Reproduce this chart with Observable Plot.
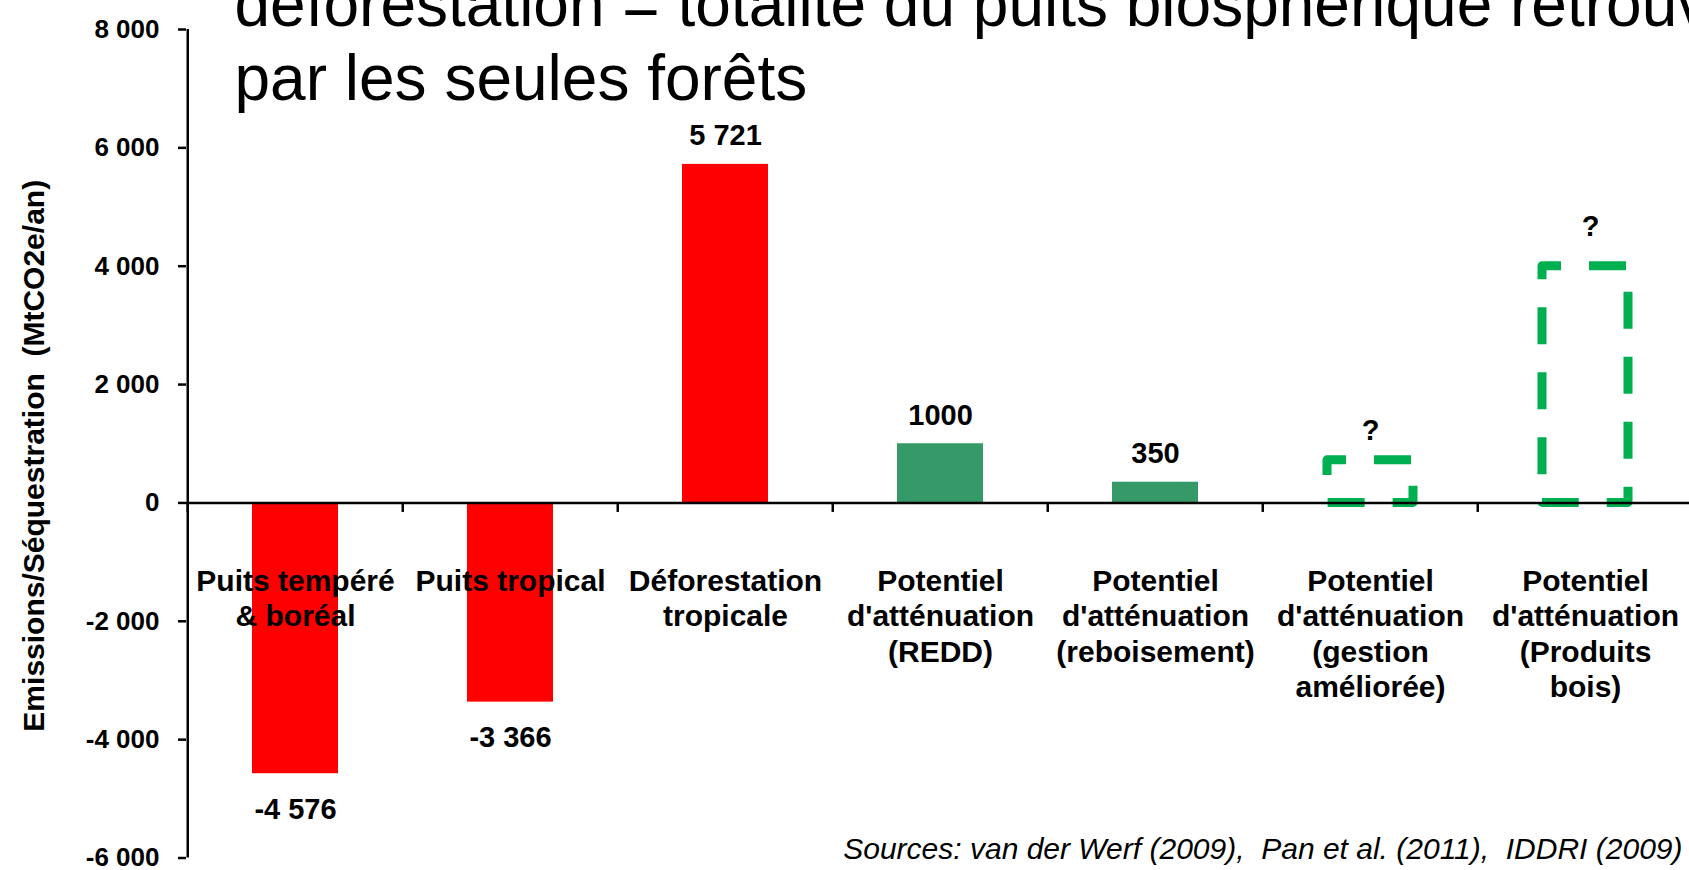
<!DOCTYPE html>
<html>
<head>
<meta charset="utf-8">
<script src="https://cdn.jsdelivr.net/npm/d3@7"></script>
<script src="https://cdn.jsdelivr.net/npm/@observablehq/plot@0.6"></script>
<style>
  html, body { margin: 0; padding: 0; background: #fff; overflow: hidden; }
  #chart { width: 1689px; height: 870px; overflow: hidden; }
</style>
</head>
<body>
<div id="chart"></div>
<script>
// ---- data ----
const categories = [
  "Puits tempéré\n& boréal",
  "Puits tropical",
  "Déforestation\ntropicale",
  "Potentiel\nd'atténuation\n(REDD)",
  "Potentiel\nd'atténuation\n(reboisement)",
  "Potentiel\nd'atténuation\n(gestion\naméliorée)",
  "Potentiel\nd'atténuation\n(Produits\nbois)"
];
const values = [-4576, -3366, 5721, 1000, 350, 720, 4000];
const valueLabels = ["-4 576", "-3 366", "5 721", "1000", "350", "?", "?"];
const kinds = ["flux", "flux", "flux", "potentiel", "potentiel", "incertain", "incertain"];
const yTicks = [-6000, -4000, -2000, 0, 2000, 4000, 6000, 8000];
const yDomain = [-6000, 8000];
const titleText = "déforestation = totalité du puits biosphérique retrouvé\npar les seules forêts";
const yLabel = "Emissions/Séquestration\u00a0\u00a0(MtCO2e/an)";
const sourcesText = "Sources: van der Werf (2009),\u00a0 Pan et al. (2011),\u00a0 IDDRI (2009)";

// ---- build table ----
const data = categories.map((c, i) => ({cat: c, value: values[i], label: valueLabels[i], kind: kinds[i]}));
const flux = data.filter(d => d.kind === "flux");
const pot = data.filter(d => d.kind === "potentiel");
const unc = data.filter(d => d.kind === "incertain");

// ---- layout ----
const W = 1689, H = 870;
const marginLeft = 186, marginTop = 29, marginBottom = 12.5;
const xRange = [marginLeft, 1694.5];
const step = (xRange[1] - xRange[0]) / categories.length;
const FONT = "Liberation Sans, Arial, Helvetica, sans-serif";

const fmt = d => (d < 0 ? "-" : "") + d3.format(",")(Math.abs(d)).replace(/,/g, " ");

const tickDown = { draw(ctx) { ctx.moveTo(0, 0); ctx.lineTo(0, 9); } };

const chart = Plot.plot({
  width: W,
  height: H,
  marginLeft,
  marginRight: 0,
  marginTop,
  marginBottom,
  style: {fontFamily: FONT, background: "#fff", color: "#000"},
  x: {domain: categories, range: xRange, paddingInner: 0.6, paddingOuter: 0.3, axis: null},
  y: {domain: yDomain},
  marks: [
    Plot.barY(flux, {x: "cat", y: "value", fill: "#ff0000"}),
    Plot.barY(pot, {x: "cat", y: "value", fill: "#359968"}),
    Plot.barY(unc, {x: "cat", y: "value", fill: "none", stroke: "#00b050", strokeWidth: 9,
      strokeDasharray: "37,28", strokeDashoffset: 18, strokeLinejoin: "round"}),
    // axes
    Plot.ruleY([0], {stroke: "#000", strokeWidth: 2.5}),
    Plot.ruleX([categories[0]], {x: d => d, dx: -step / 2, stroke: "#000", strokeWidth: 2.5}),
    Plot.dot(categories, {x: d => d, y: () => 0, dx: -step / 2, symbol: tickDown, stroke: "#000", strokeWidth: 2.5, fill: "none"}),
    Plot.dot([categories[categories.length - 1]], {x: d => d, y: () => 0, dx: step / 2, symbol: tickDown, stroke: "#000", strokeWidth: 2.5, fill: "none"}),
    Plot.axisY({ticks: yTicks, tickFormat: fmt, tickSize: 8, tickPadding: 19, fontSize: 26, fontWeight: "bold",
      fontFamily: FONT, label: null, strokeWidth: 2.5}),
    // value labels
    Plot.text(data.filter(d => d.value > 0 && d.kind !== "incertain"), {x: "cat", y: "value", text: "label", lineAnchor: "bottom", dy: -19,
      fontSize: 29, fontWeight: "bold", fontFamily: FONT, fill: "#000"}),
    Plot.text(data.filter(d => d.value < 0), {x: "cat", y: "value", text: "label", lineAnchor: "top", dy: 24.5,
      fontSize: 29, fontWeight: "bold", fontFamily: FONT, fill: "#000"}),
    Plot.text([unc[0]], {x: "cat", y: "value", text: "label", lineAnchor: "bottom", dy: -20,
      fontSize: 29, fontWeight: "bold", fontFamily: FONT, fill: "#000"}),
    Plot.text([unc[1]], {x: "cat", y: "value", text: "label", lineAnchor: "bottom", dy: -30, dx: 5,
      fontSize: 29, fontWeight: "bold", fontFamily: FONT, fill: "#000"}),
    // category labels
    Plot.text(data, {x: "cat", y: () => 0, text: "cat", lineAnchor: "top", dy: 63, lineHeight: 1.18,
      fontSize: 30, fontWeight: "bold", fontFamily: FONT, fill: "#000"}),
    // y label
    Plot.text([yLabel], {frameAnchor: "left", textAnchor: "middle", rotate: -90, lineAnchor: "bottom", dx: -143, dy: 12,
      fontSize: 30, fontWeight: "bold", fontFamily: FONT, fill: "#000"}),
    // title
    Plot.text([titleText], {frameAnchor: "top-left", textAnchor: "start", lineAnchor: "bottom", dx: 48, dy: 70,
      lineHeight: 1.15, fontSize: 64, fontFamily: FONT, fill: "#000"}),
    // sources
    Plot.text([sourcesText], {frameAnchor: "bottom-right", textAnchor: "end", lineAnchor: "bottom", dx: -7, dy: 0.5,
      fontSize: 30, fontStyle: "italic", fontFamily: FONT, fill: "#000"})
  ]
});
document.getElementById("chart").appendChild(chart);
</script>
</body>
</html>
